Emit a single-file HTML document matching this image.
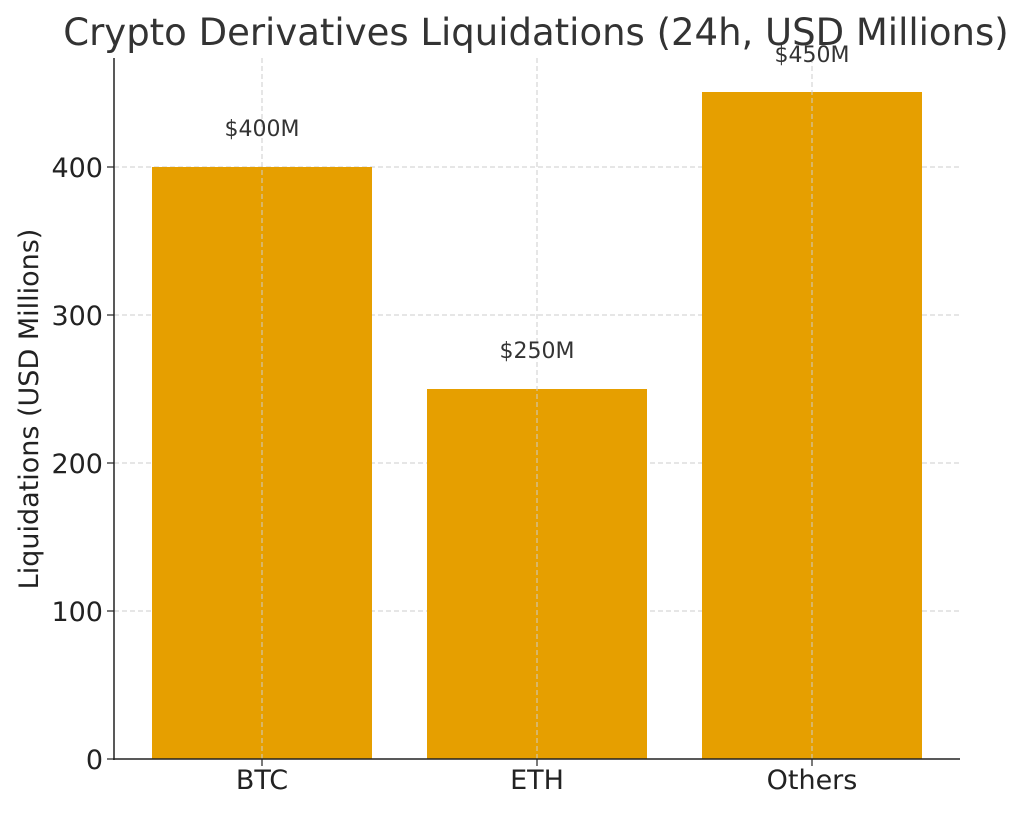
<!DOCTYPE html>
<html><head><meta charset="utf-8"><style>
body{margin:0;background:#fff;}
svg text{font-family:"DejaVu Sans","Liberation Sans",sans-serif;}
</style></head><body>
<svg width="1024" height="811" xmlns="http://www.w3.org/2000/svg">
<rect width="1024" height="811" fill="#fff"/>
<g stroke="#ccc" stroke-width="1" stroke-dasharray="5,3">
<line x1="114" y1="611" x2="960" y2="611"/>
<line x1="114" y1="463" x2="960" y2="463"/>
<line x1="114" y1="315" x2="960" y2="315"/>
<line x1="114" y1="167" x2="960" y2="167"/>
</g>
<rect x="152" y="167" width="220" height="592" fill="#e69f00"/>
<rect x="427" y="389" width="220" height="370" fill="#e69f00"/>
<rect x="702" y="92" width="220" height="667" fill="#e69f00"/>
<g stroke="#ccc" stroke-width="1" stroke-dasharray="5,3">
<line x1="262" y1="58" x2="262" y2="759"/>
<line x1="537" y1="58" x2="537" y2="759"/>
<line x1="812" y1="58" x2="812" y2="759"/>
</g>
<line x1="114" y1="58" x2="114" y2="760" stroke="#222" stroke-width="1.5"/>
<line x1="113" y1="759" x2="960" y2="759" stroke="#222" stroke-width="1.5"/>
<g stroke="#222" stroke-width="1.2">
<line x1="107" y1="759" x2="114" y2="759"/><line x1="107" y1="611" x2="114" y2="611"/>
<line x1="107" y1="463" x2="114" y2="463"/><line x1="107" y1="315" x2="114" y2="315"/>
<line x1="107" y1="167" x2="114" y2="167"/>
<line x1="262" y1="759" x2="262" y2="766"/><line x1="537" y1="759" x2="537" y2="766"/><line x1="812" y1="759" x2="812" y2="766"/>
</g>
<g font-size="27" fill="#222" text-anchor="end">
<text x="103" y="769">0</text><text x="103" y="621">100</text><text x="103" y="473">200</text>
<text x="103" y="325">300</text><text x="103" y="177">400</text>
</g>
<g font-size="27" fill="#222" text-anchor="middle">
<text x="262" y="789">BTC</text><text x="537" y="789">ETH</text><text x="812" y="789">Others</text>
</g>
<text transform="translate(38,409) rotate(-90)" font-size="27" fill="#222" text-anchor="middle">Liquidations (USD Millions)</text>
<text x="536" y="45" font-size="37" fill="#333" text-anchor="middle">Crypto Derivatives Liquidations (24h, USD Millions)</text>
<g font-size="22" fill="#333" text-anchor="middle">
<text x="262" y="136">$400M</text><text x="537" y="358">$250M</text><text x="812" y="62">$450M</text>
</g>
</svg>
</body></html>
